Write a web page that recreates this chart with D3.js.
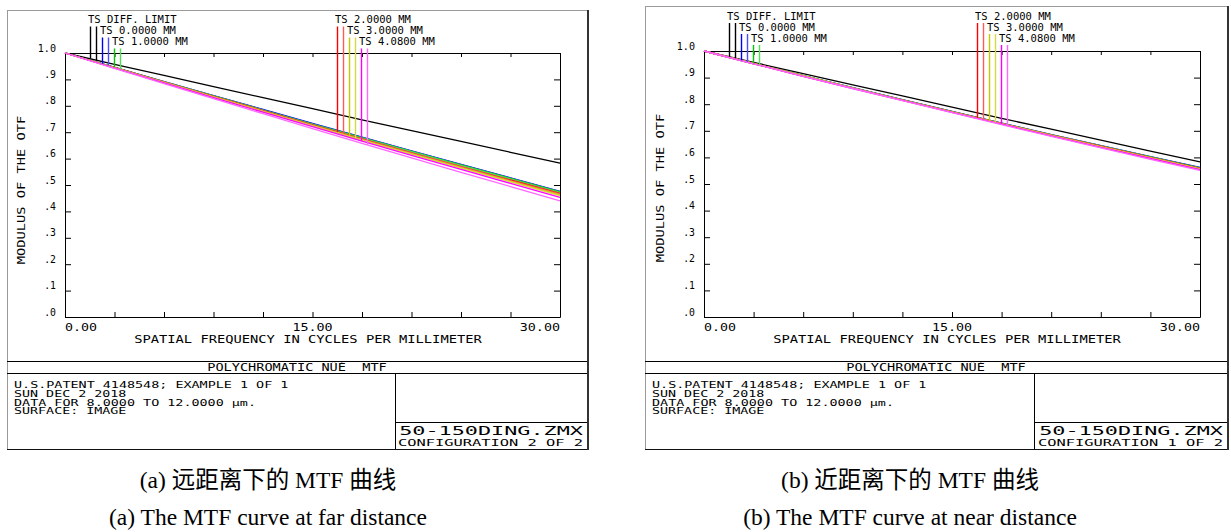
<!DOCTYPE html>
<html><head><meta charset="utf-8">
<script src="https://cdn.jsdelivr.net/npm/d3@7"></script>
<style>
html,body{margin:0;padding:0;background:#fff;}
svg{display:block;}
.mono{font-family:"DejaVu Sans Mono","Liberation Mono",monospace;white-space:pre;}
.cap{font-family:"Liberation Serif","Times New Roman","Noto Sans CJK SC",serif;}
</style></head><body>
<svg id="chart" width="1231" height="532"></svg>
<script>
// ---------------- data ----------------
const freqs = [0, 3, 6, 9, 12, 15, 18, 21, 24, 27, 30];
const xTickValues = [0, 3, 6, 9, 12, 15, 18, 21, 24, 27, 30];
const xLabelValues = [0, 15, 30];
const xLabelTexts = ["0.00", "15.00", "30.00"];
const yTickValues = [0, 0.1, 0.2, 0.3, 0.4, 0.5, 0.6, 0.7, 0.8, 0.9, 1.0];
const yLabelTexts = [".0", ".1", ".2", ".3", ".4", ".5", ".6", ".7", ".8", ".9", "1.0"];
const fieldLabels = ["TS DIFF. LIMIT", "TS 0.0000 MM", "TS 1.0000 MM", "TS 2.0000 MM", "TS 3.0000 MM", "TS 4.0800 MM"];
const fieldColorsT = ["#000000", "#0000ff", "#00c800", "#ff0000", "#c8c800", "#ff00ff"];
const fieldColorsS = ["#000000", "#4a4aff", "#50e050", "#ff5a5a", "#d8d840", "#ff66ff"];

// (a) far distance (configuration 2 of 2)
const farDiff = [1.000, 0.957, 0.915, 0.873, 0.831, 0.789, 0.747, 0.706, 0.665, 0.624, 0.583];
const far0T = [1.000, 0.946, 0.892, 0.839, 0.786, 0.733, 0.681, 0.629, 0.578, 0.527, 0.476];
const far0S = [1.000, 0.946, 0.892, 0.838, 0.785, 0.732, 0.680, 0.628, 0.577, 0.526, 0.475];
const far1T = [1.000, 0.946, 0.891, 0.838, 0.784, 0.731, 0.679, 0.627, 0.576, 0.525, 0.474];
const far1S = [1.000, 0.945, 0.891, 0.837, 0.783, 0.730, 0.678, 0.626, 0.574, 0.523, 0.472];
const far2T = [1.000, 0.945, 0.890, 0.836, 0.782, 0.728, 0.675, 0.622, 0.570, 0.519, 0.468];
const far2S = [1.000, 0.945, 0.890, 0.835, 0.781, 0.727, 0.674, 0.621, 0.569, 0.517, 0.466];
const far3T = [1.000, 0.944, 0.889, 0.834, 0.779, 0.725, 0.671, 0.618, 0.566, 0.514, 0.463];
const far3S = [1.000, 0.944, 0.888, 0.833, 0.778, 0.724, 0.670, 0.617, 0.564, 0.512, 0.460];
const far4T = [1.000, 0.943, 0.887, 0.831, 0.776, 0.721, 0.666, 0.612, 0.559, 0.506, 0.453];
const far4S = [1.000, 0.942, 0.884, 0.827, 0.770, 0.714, 0.658, 0.603, 0.548, 0.494, 0.440];

// (b) near distance (configuration 1 of 2)
const nearDiff = [1.000, 0.957, 0.915, 0.873, 0.831, 0.789, 0.747, 0.706, 0.665, 0.624, 0.583];
const near0T = [1.000, 0.953, 0.907, 0.862, 0.817, 0.773, 0.729, 0.686, 0.644, 0.603, 0.562];
const near0S = [1.000, 0.953, 0.907, 0.861, 0.816, 0.772, 0.729, 0.686, 0.644, 0.602, 0.561];
const near1T = [1.000, 0.953, 0.907, 0.861, 0.816, 0.772, 0.728, 0.685, 0.643, 0.602, 0.561];
const near1S = [1.000, 0.953, 0.907, 0.861, 0.816, 0.772, 0.728, 0.685, 0.643, 0.601, 0.560];
const near2T = [1.000, 0.953, 0.906, 0.860, 0.815, 0.771, 0.727, 0.684, 0.642, 0.600, 0.559];
const near2S = [1.000, 0.953, 0.906, 0.860, 0.815, 0.771, 0.727, 0.684, 0.641, 0.599, 0.558];
const near3T = [1.000, 0.953, 0.906, 0.860, 0.815, 0.770, 0.726, 0.683, 0.640, 0.598, 0.557];
const near3S = [1.000, 0.952, 0.906, 0.860, 0.814, 0.770, 0.726, 0.682, 0.640, 0.598, 0.556];
const near4T = [1.000, 0.952, 0.905, 0.859, 0.814, 0.769, 0.725, 0.681, 0.638, 0.596, 0.554];
const near4S = [1.000, 0.952, 0.905, 0.859, 0.813, 0.768, 0.723, 0.679, 0.636, 0.593, 0.551];

const headerText = "POLYCHROMATIC ÑÜÉ  MTF";
const infoLines = ["U.S.PATENT 4148548; EXAMPLE 1 OF 1", "SUN DEC 2 2018", "DATA FOR 8.0000 TO 12.0000 µm.", "SURFACE: IMAGE"];
const fileName = "50-150DING.ZMX";
const configTexts = ["CONFIGURATION 2 OF 2", "CONFIGURATION 1 OF 2"];
const xTitle = "SPATIAL FREQUENCY IN CYCLES PER MILLIMETER";
const yTitle = "MODULUS OF THE OTF";
const captionsZh = ["(a) 远距离下的 MTF 曲线", "(b) 近距离下的 MTF 曲线"];
const captionsEn = ["(a) The MTF curve at far distance", "(b) The MTF curve at near distance"];

// ---------------- drawing ----------------
const svg = d3.select("#chart");

function zText(g, str, x, y, o) {
  const t = g.append("text").attr("class", "mono")
    .attr("x", x).attr("y", y)
    .attr("font-size", o.size)
    .attr("text-anchor", o.anchor || "start")
    .attr("fill", o.fill || "#000")
    .text(str);
  if (o.pitch) t.attr("textLength", str.length * o.pitch - 1).attr("lengthAdjust", "spacingAndGlyphs");
  if (o.rotate) t.attr("transform", `rotate(${o.rotate},${x},${y})`);
  return t;
}

function drawPanel(L, diff, tSet, sSet, configText) {
  const g = svg.append("g");
  const x = d3.scaleLinear().domain([0, 30]).range([L.pl, L.pr]);
  const y = d3.scaleLinear().domain([0, 1]).range([L.pb, L.pt]);

  // outer frame
  g.append("line").attr("x1", L.fx0).attr("x2", L.fx1).attr("y1", L.fy0 + 0.5).attr("y2", L.fy0 + 0.5).attr("stroke", "#9a9a9a");
  g.append("line").attr("x1", L.fx0 + 0.5).attr("x2", L.fx0 + 0.5).attr("y1", L.fy0).attr("y2", L.fy1).attr("stroke", "#9a9a9a");
  g.append("line").attr("x1", L.fx1 + 1).attr("x2", L.fx1 + 1).attr("y1", L.fy0).attr("y2", L.fy1 + 1).attr("stroke", "#333").attr("stroke-width", 2);
  g.append("line").attr("x1", L.fx0).attr("x2", L.fx1).attr("y1", L.fy1 + 0.5).attr("y2", L.fy1 + 0.5).attr("stroke", "#111");

  // info box lines
  g.append("line").attr("x1", L.fx0).attr("x2", L.fx1).attr("y1", L.hy0 + 0.5).attr("y2", L.hy0 + 0.5).attr("stroke", "#000");
  g.append("line").attr("x1", L.fx0).attr("x2", L.fx1).attr("y1", L.hy1 + 0.5).attr("y2", L.hy1 + 0.5).attr("stroke", "#000");
  g.append("line").attr("x1", L.dx + 0.5).attr("x2", L.dx + 0.5).attr("y1", L.hy1).attr("y2", L.fy1).attr("stroke", "#000");
  g.append("line").attr("x1", L.dx).attr("x2", L.fx1).attr("y1", L.by + 0.5).attr("y2", L.by + 0.5).attr("stroke", "#000");

  // axes (ticks inward on all four sides)
  const axStyle = s => s.attr("color", "#000").call(a => a.selectAll("text").remove());
  g.append("g").attr("transform", `translate(0,${L.pb})`)
    .call(d3.axisBottom(x).tickValues(xTickValues).tickSize(-5).tickSizeOuter(0).tickFormat("")).call(axStyle);
  g.append("g").attr("transform", `translate(0,${L.pt})`)
    .call(d3.axisTop(x).tickValues(xTickValues).tickSize(-4).tickSizeOuter(0).tickFormat("")).call(axStyle);
  g.append("g").attr("transform", `translate(${L.pl},0)`)
    .call(d3.axisLeft(y).tickValues(yTickValues).tickSize(-6).tickSizeOuter(0).tickFormat("")).call(axStyle);
  g.append("g").attr("transform", `translate(${L.pr},0)`)
    .call(d3.axisRight(y).tickValues(yTickValues).tickSize(-6).tickSizeOuter(0).tickFormat("")).call(axStyle);

  // tick labels
  yTickValues.forEach((v, i) => zText(g, yLabelTexts[i], L.pl - 9, y(v) - 1.5, {size: 10.5, pitch: 6.4, anchor: "end"}));
  const anchors = ["start", "middle", "end"];
  xLabelValues.forEach((v, i) => zText(g, xLabelTexts[i], x(v), L.pb + 13.5, {size: 10, pitch: 8.25, anchor: anchors[i]}));

  // axis titles
  zText(g, xTitle, L.pl + 243, L.pb + 26, {size: 10, pitch: 8.3, anchor: "middle"});
  zText(g, yTitle, L.pl - 40, L.pt + 137, {size: 10, pitch: 8.3, anchor: "middle", rotate: -90});

  // curves
  const series = [{v: diff, c: fieldColorsT[0]}];
  tSet.forEach((t, i) => {
    series.push({v: t, c: fieldColorsT[i + 1]});
    series.push({v: sSet[i], c: fieldColorsS[i + 1]});
  });
  const line = d3.line().x((d, i) => x(freqs[i])).y(d => y(d));
  g.append("g").selectAll("path").data(series).join("path")
    .attr("d", d => line(d.v)).attr("fill", "none")
    .attr("stroke", d => d.c).attr("stroke-width", 1.3);

  // legend
  const groups = [{fields: [0, 1, 2], tx: L.lx1}, {fields: [3, 4, 5], tx: L.lx2}];
  groups.forEach(gr => {
    gr.fields.forEach((f, j) => {
      const tx = gr.tx + 12 * j;
      const base = L.lb[j];
      zText(g, fieldLabels[f], tx, base, {size: 10.5, pitch: 6.4});
      const tv = f === 0 ? diff : tSet[f - 1];
      const sv = f === 0 ? diff : sSet[f - 1];
      [[tx + 2, tv, fieldColorsT[f]], [tx + 8, sv, fieldColorsS[f]]].forEach(([lx, vals, col]) => {
        const interp = d3.scaleLinear().domain(freqs).range(vals);
        g.append("line").attr("x1", lx + 0.5).attr("x2", lx + 0.5)
          .attr("y1", base + 3.5).attr("y2", y(interp(x.invert(lx))))
          .attr("stroke", col).attr("stroke-width", 1.4);
      });
    });
  });

  // info box texts
  zText(g, headerText, (L.fx0 + L.fx1) / 2, L.hy1 - 2, {size: 10, pitch: 8.2, anchor: "middle"});
  infoLines.forEach((s, i) => zText(g, s, L.fx0 + 7, L.hy1 + 15 + i * 8.8, {size: 8.6, pitch: 8.1}));
  zText(g, fileName, L.fx1 - 4, L.by + 12.5, {size: 12, pitch: 13.2, anchor: "end"});
  zText(g, configText, L.fx1 - 4, L.by + 24, {size: 9.5, pitch: 9.3, anchor: "end"});
}

const layoutA = {fx0: 7, fx1: 587, fy0: 10, fy1: 449, pl: 65, pr: 560, pt: 53, pb: 317,
  hy0: 361, hy1: 373, dx: 395, by: 422, lx1: 88, lx2: 335, lb: [23, 34, 45]};
const layoutB = {fx0: 645, fx1: 1227, fy0: 6, fy1: 449, pl: 704, pr: 1200, pt: 51, pb: 317,
  hy0: 361, hy1: 373, dx: 1034, by: 422, lx1: 727, lx2: 975, lb: [19.5, 30.5, 41.5]};

drawPanel(layoutA, farDiff, [far0T, far1T, far2T, far3T, far4T], [far0S, far1S, far2S, far3S, far4S], configTexts[0]);
drawPanel(layoutB, nearDiff, [near0T, near1T, near2T, near3T, near4T], [near0S, near1S, near2S, near3S, near4S], configTexts[1]);

// captions
const capX = [268, 910];
captionsZh.forEach((s, i) => svg.append("text").attr("class", "cap").attr("x", capX[i]).attr("y", 488)
  .attr("text-anchor", "middle").attr("font-size", 23.5).attr("fill", "#000").text(s));
captionsEn.forEach((s, i) => svg.append("text").attr("class", "cap").attr("x", capX[i]).attr("y", 525)
  .attr("text-anchor", "middle").attr("font-size", 23.5).attr("fill", "#000").text(s));
</script>
</body></html>
